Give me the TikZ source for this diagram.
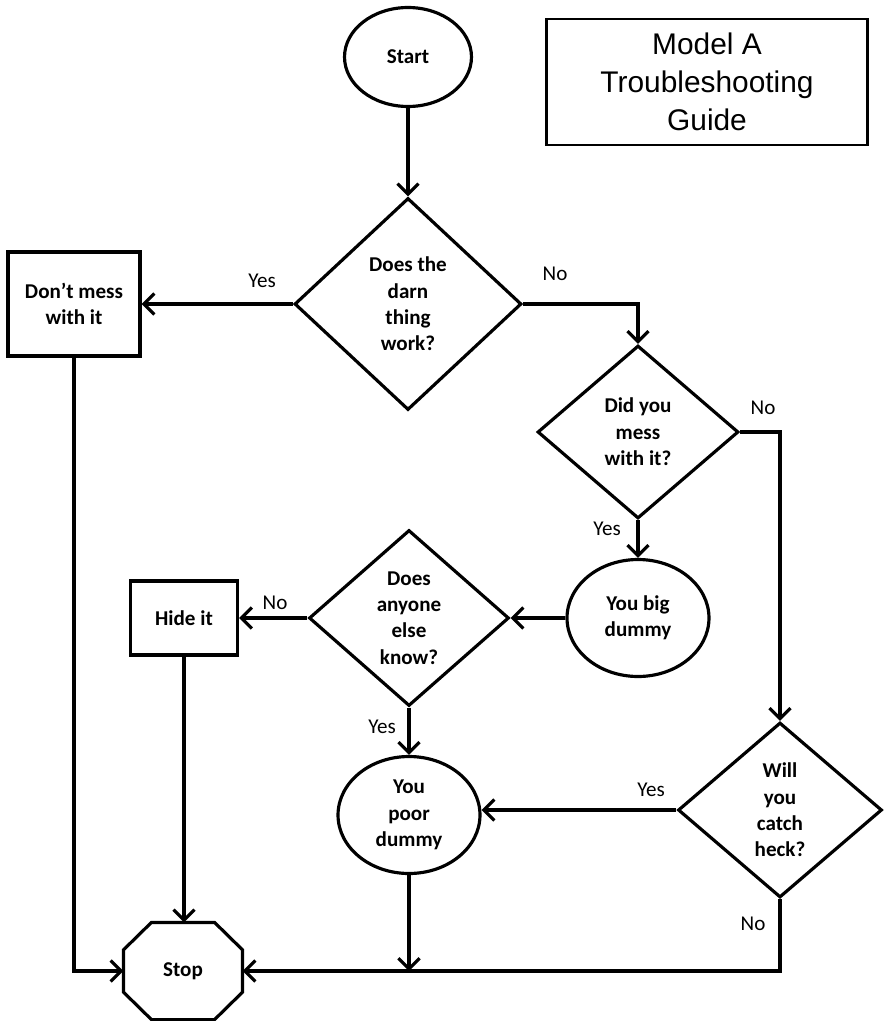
\documentclass[tikz,border=0pt]{standalone}
\usepackage{fontspec}
\setmainfont{Carlito}
\newfontfamily\titlefont{Liberation Sans}
\usetikzlibrary{shapes.geometric, arrows.meta, positioning, calc}

\begin{document}
\begin{tikzpicture}[x=0.02cm, y=-0.02cm, line width=1.8pt,
    every node/.style={font=\fontsize{12}{15}\selectfont\bfseries, align=center},
    terminal/.style={draw, ellipse, inner sep=0pt, minimum width=2.84cm, minimum height=2.34cm},
    decision/.style={draw, diamond, inner sep=0pt},
    action/.style={draw, rectangle, inner sep=0pt},
    flow/.style={-{Straight Barb[length=6pt, width=12pt]}},
    answer/.style={font=\fontsize{12}{15}\selectfont}]
    \useasboundingbox (0,0) rectangle (887,1021);

    % shapes
    \node[terminal, minimum width=2.54cm, minimum height=1.98cm] (start) at (408,57) {Start};
    \node[action, line width=1.3pt, font=\titlefont\fontsize{17}{21.5}\selectfont, minimum width=6.42cm, minimum height=2.52cm] (title) at (707,82) {Model A\\Troubleshooting\\Guide};
    \node[decision, minimum width=4.54cm, minimum height=4.24cm] (works) at (408,304) {Does the\\darn\\thing\\work?};
    \node[action, minimum width=2.64cm, minimum height=2.08cm] (leave) at (74,304) {Don't mess\\with it};
    \node[decision, minimum width=4.02cm, minimum height=3.46cm] (messed) at (638,432) {Did you\\mess\\with it?};
    \node[terminal] (bigdummy) at (638,618) {You big\\dummy};
    \node[decision, minimum width=4cm, minimum height=3.52cm] (others) at (409,618) {Does\\anyone\\else\\know?};
    \node[action, minimum width=2.14cm, minimum height=1.48cm] (hide) at (184,618) {Hide it};
    \node[terminal] (poordummy) at (409,815) {You\\poor\\dummy};
    \node[decision, minimum width=4.08cm, minimum height=3.5cm] (heck) at (780,810) {Will\\you\\catch\\heck?};
    \node[inner sep=0pt, minimum width=2.32cm, minimum height=1.88cm] (stop) at (183,971) {Stop};
    \draw ([xshift=0.56cm]stop.north west) -- ([xshift=-0.56cm]stop.north east)
        -- ([yshift=-0.55cm]stop.north east) -- ([yshift=0.55cm]stop.south east)
        -- ([xshift=-0.56cm]stop.south east) -- ([xshift=0.56cm]stop.south west)
        -- ([yshift=0.55cm]stop.south west) -- ([yshift=-0.55cm]stop.north west) -- cycle;

    % connectors
    \draw[flow] (start) -- (works);
    \draw[flow] (works.west) -- (leave.east);
    \draw[flow] (works.east) -| (messed.north);
    \draw[flow] (messed.east) -| (heck.north);
    \draw[flow] (messed.south) -- (bigdummy.north);
    \draw[flow] (bigdummy.west) -- (others.east);
    \draw[flow] (others.west) -- (hide.east);
    \draw[flow] (others.south) -- (poordummy.north);
    \draw[flow] (heck.west) -- (heck.west -| poordummy.east);
    \draw[flow] (hide.south) -- (hide.south |- stop.north);
    \draw[flow] (leave.south) |- (stop.west);
    \draw[flow] (heck.south) |- (stop.east);
    \draw[flow] (poordummy.south) -- (poordummy.south |- stop.east);

    % answers
    \node[answer] (yes1) at (262,281) {Yes};
    \node[answer] (no1) at (555,274) {No};
    \node[answer] (no2) at (763,408) {No};
    \node[answer] (yes2) at (607,529) {Yes};
    \node[answer] (no3) at (275,603) {No};
    \node[answer] (yes3) at (382,727) {Yes};
    \node[answer] (yes4) at (651,790) {Yes};
    \node[answer] (no4) at (753,924) {No};
\end{tikzpicture}
\end{document}
